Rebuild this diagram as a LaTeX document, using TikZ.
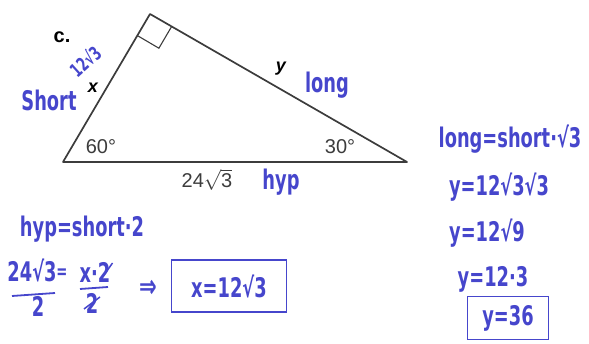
\documentclass[tikz,border=0pt]{standalone}
\usepackage{fontspec}
\usetikzlibrary{positioning, calc}
\setmainfont{Liberation Sans}
\newfontfamily\handfont[FakeStretch=0.66]{DejaVu Sans}
\definecolor{ink}{RGB}{70,70,204}
\definecolor{printgray}{RGB}{60,60,60}

\tikzset{
  hand/.style={text=ink, font=\handfont\bfseries\fontsize{27}{27}\selectfont, inner sep=0pt},
  printed/.style={text=printgray, font=\fontsize{20}{20}\selectfont, inner sep=0pt},
  answerbox/.style={draw=ink, line width=1.8pt, minimum width=#1, minimum height=44pt, inner sep=0pt}
}

\begin{document}
\begin{tikzpicture}[x=1pt, y=-1pt]
        \useasboundingbox (0,0) rectangle (589,344);

        % Triangle
        \coordinate (A) at (63,162);
        \coordinate (B) at (150,14);
        \coordinate (C) at (407,162);
        \draw[line width=1.7pt, printgray, line join=round] (A) -- (B) -- (C) -- cycle;
        \draw[line width=1.1pt, printgray] ($(B)!25pt!(A)$) -- ($(B)!25pt!(A)!25pt!90:(A)$) -- ($(B)!25pt!(C)$);

        % Printed labels
        \node[font=\bfseries\fontsize{20}{20}\selectfont, inner sep=0pt] (part) at (62,37) {c.};
        \node[printed] (angA) at (101,147) {60°};
        \node[printed] (angC) at (340,147) {30°};
        \node[printed] (hyplen) at (207,180) {24$\sqrt{\mbox{3}}$};
        \node[font=\bfseries\itshape\fontsize{18}{18}\selectfont, inner sep=0pt] (sidex) at (93,88) {x};
        \node[font=\bfseries\itshape\fontsize{18}{18}\selectfont, inner sep=0pt] (sidey) at (281,69) {y};

        % Side names
        \node[hand, font=\handfont\bfseries\fontsize{19}{19}\selectfont, rotate=42] (xval) at (85,61) {12√3};
        \node[hand] (short) at (49,100) {Short};
        \node[hand] (long) at (327,85) {long};
        \node[hand] (hyp) at (281,182) {hyp};

        % Solving for x
        \node[hand] (rule1) at (82,229) {hyp=short·2};
        \node[hand] (num1) at (32,270) {24√3};
        \node[hand, font=\handfont\bfseries\fontsize{20}{20}\selectfont] (eq1) at (62,274) {=};
        \node[hand] (num2) at (95,272) {x·2};
        \node[hand] (den1) at (38,306) {2};
        \node[hand] (den2) at (92,303) {2};
        \draw[ink, line width=1.8pt] (12,296) -- (55,293);
        \draw[ink, line width=1.8pt] (80,289) -- (108,287);
        \draw[ink, line width=1.5pt] ($(num2.east)+(-10,8)$) -- ($(num2.east)+(2,-9)$);
        \draw[ink, line width=1.5pt] ($(den2)+(-8,6)$) -- ($(den2)+(8,-6)$);
        \node[hand, font=\handfont\bfseries\fontsize{32}{32}\selectfont] (implies) at (148,289) {⇒};
        \node[answerbox=115pt, minimum height=52pt] (boxx) at (229,286) {};
        \node[hand] (ansx) at (boxx) {x=12√3};

        % Solving for y
        \node[hand] (rule2) at (510,139) {long=short·√3};
        \node[hand] (step1) at (499,187) {y=12√3√3};
        \node[hand] (step2) at (487,233) {y=12√9};
        \node[hand] (step3) at (493,279) {y=12·3};
        \node[answerbox=81pt, minimum height=43pt] (boxy) at (508,318) {};
        \node[hand] (ansy) at (boxy) {y=36};
      \end{tikzpicture}
\end{document}
